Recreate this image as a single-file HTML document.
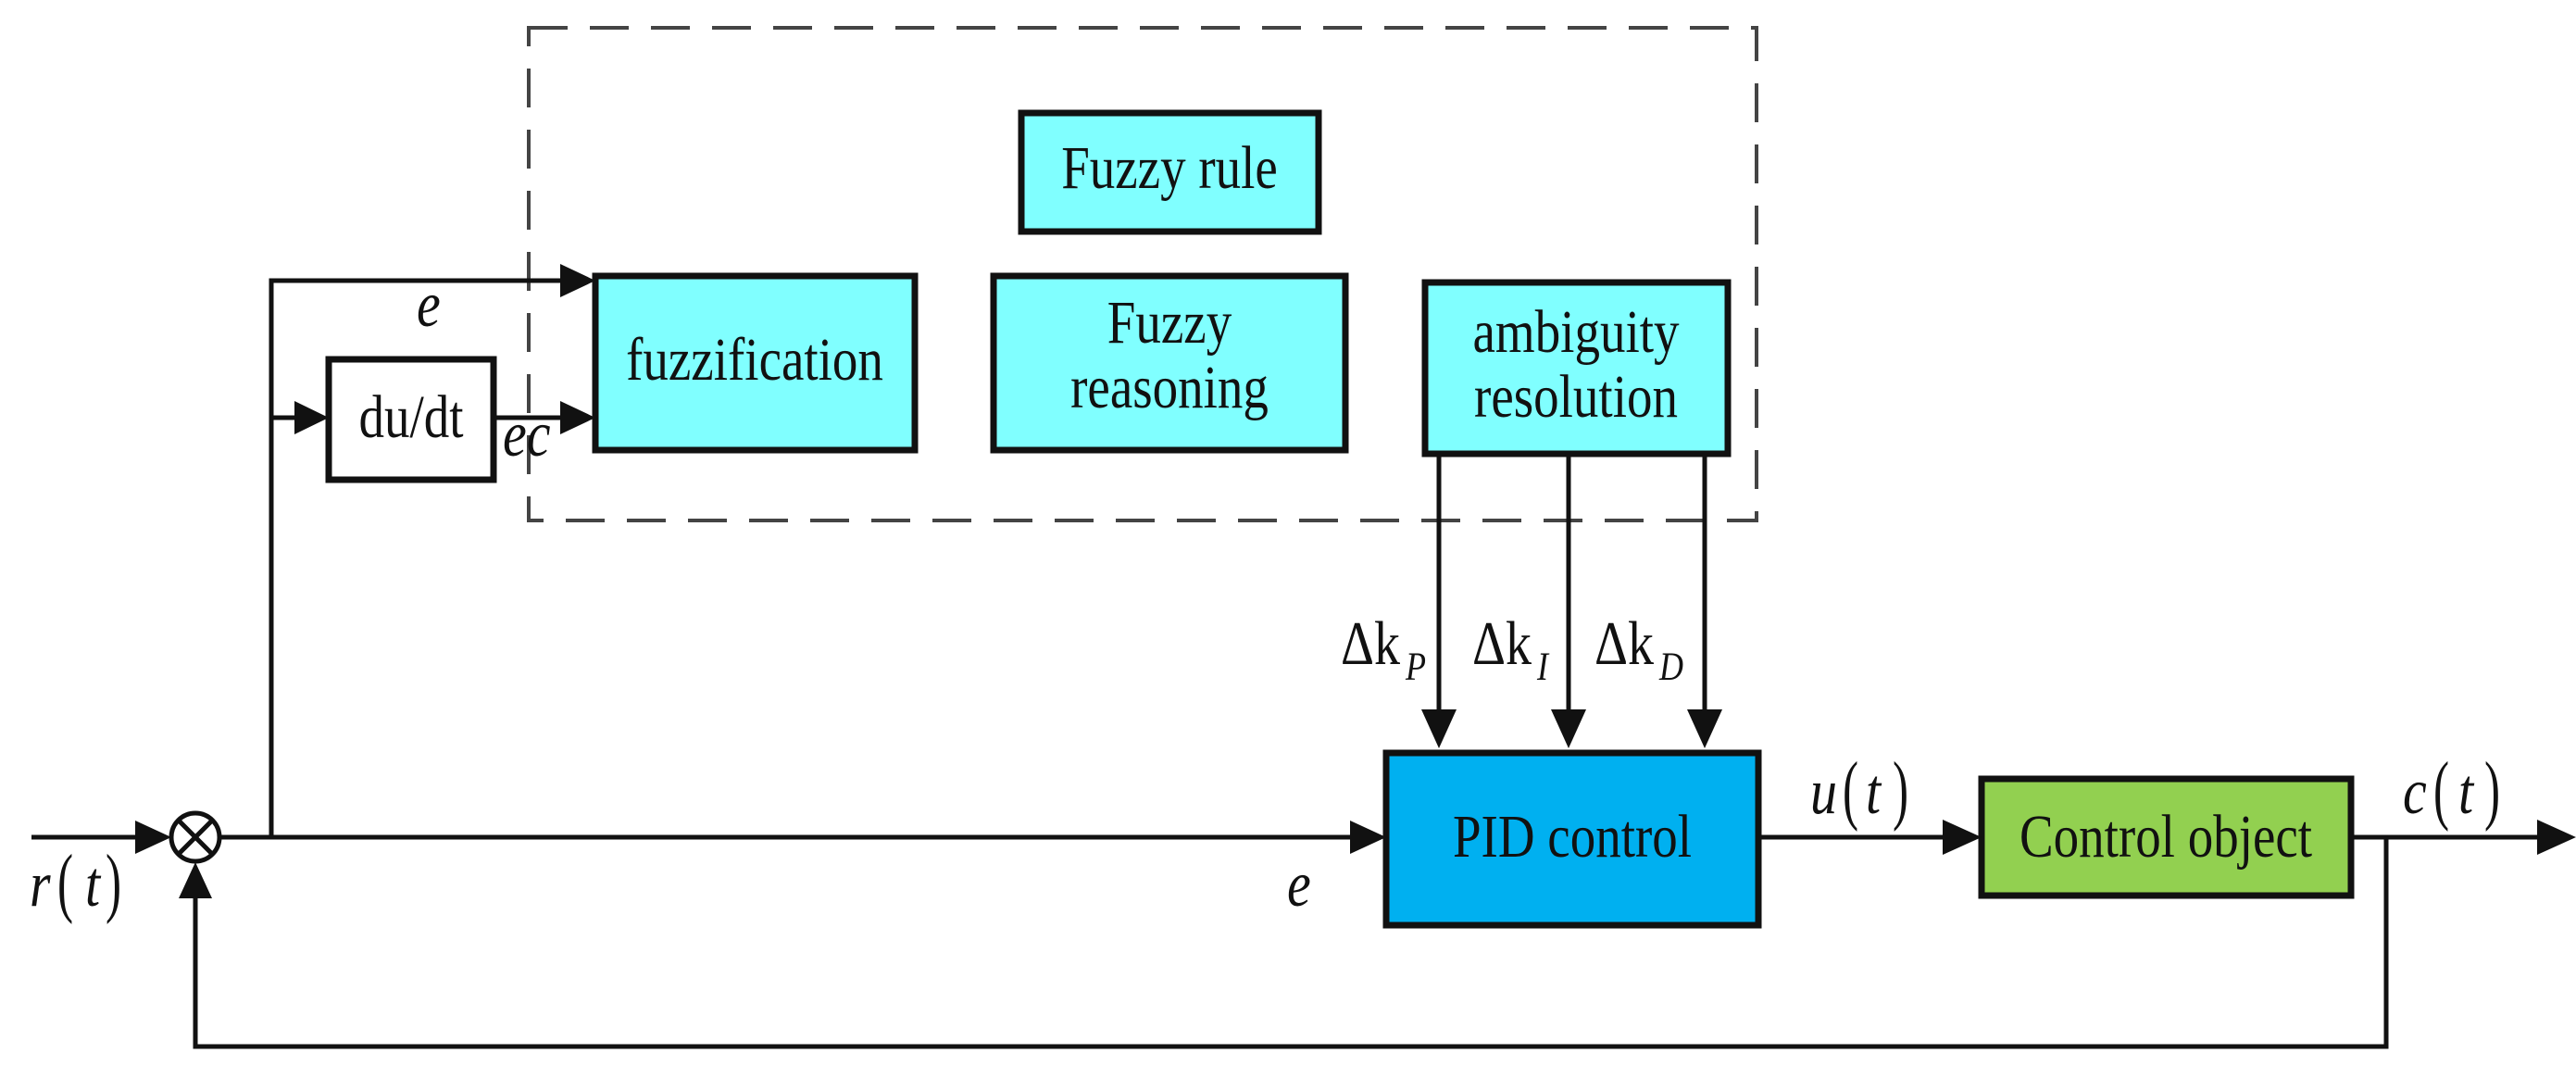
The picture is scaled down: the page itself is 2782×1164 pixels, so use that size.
<!DOCTYPE html>
<html><head><meta charset="utf-8"><style>
html,body{margin:0;padding:0;background:#fff;}
svg{display:block;}
text{font-family:"Liberation Serif",serif;fill:#111;}
</style></head><body>
<svg width="2782" height="1164" viewBox="0 0 2782 1164" xmlns="http://www.w3.org/2000/svg">
<!-- dashed box -->
<rect x="571" y="30" width="1326" height="532" fill="none" stroke="#444" stroke-width="4" stroke-dasharray="42,24"/>
<!-- boxes -->
<g stroke="#111" stroke-width="7">
<rect x="1103" y="122" width="321" height="128" fill="#80FFFF"/>
<rect x="643" y="298" width="345" height="188" fill="#80FFFF"/>
<rect x="1073" y="298" width="380" height="188" fill="#80FFFF"/>
<rect x="1539" y="305" width="327" height="185" fill="#80FFFF"/>
<rect x="355" y="388" width="178" height="130" fill="#fff"/>
<rect x="1497" y="813" width="402" height="186" fill="#00B0F0"/>
<rect x="2140" y="841" width="399" height="126" fill="#92D050"/>
</g>
<!-- lines -->
<g stroke="#111" stroke-width="5" fill="none">
<polyline points="293,904 293,303 610,303"/>
<line x1="293" y1="451" x2="320" y2="451"/>
<line x1="533" y1="451" x2="610" y2="451"/>
<line x1="34" y1="904" x2="150" y2="904"/>
<line x1="238" y1="904" x2="1460" y2="904"/>
<line x1="1554" y1="490" x2="1554" y2="770"/>
<line x1="1694" y1="490" x2="1694" y2="770"/>
<line x1="1841" y1="490" x2="1841" y2="770"/>
<line x1="1899" y1="904" x2="2100" y2="904"/>
<line x1="2539" y1="904" x2="2740" y2="904"/>
<polyline points="2577,904 2577,1130 211,1130 211,970"/>
<circle cx="211" cy="904" r="26"/>
<line x1="193" y1="886" x2="229" y2="922"/>
<line x1="229" y1="886" x2="193" y2="922"/>
</g>
<!-- arrowheads -->
<g fill="#111">
<polygon points="643,303 605,285 605,321"/>
<polygon points="643,451 605,433 605,469"/>
<polygon points="355,451 318,433 318,469"/>
<polygon points="185,904 146,886 146,922"/>
<polygon points="211,931 193,970 229,970"/>
<polygon points="1497,904 1458,886 1458,922"/>
<polygon points="2140,904 2098,885 2098,923"/>
<polygon points="2782,904 2740,885 2740,923"/>
<polygon points="1554,808 1535,766 1573,766"/>
<polygon points="1694,808 1675,766 1713,766"/>
<polygon points="1841,808 1822,766 1860,766"/>
</g>
<!-- labels -->
<g font-size="55" text-anchor="middle">
<text transform="translate(1263,203) scale(1,1.2)">Fuzzy rule</text>
<text transform="translate(815,410) scale(1,1.2)">fuzzification</text>
<text transform="translate(1263,370) scale(1,1.2)">Fuzzy</text>
<text transform="translate(1263,440) scale(1,1.2)">reasoning</text>
<text transform="translate(1702,380) scale(1,1.2)">ambiguity</text>
<text transform="translate(1702,450) scale(1,1.2)">resolution</text>
<text transform="translate(444,472) scale(1,1.2)">du/dt</text>
<text transform="translate(1698,925) scale(1,1.2)">PID control</text>
<text transform="translate(2339,925) scale(1,1.2)">Control object</text>
</g>
<g font-size="58" font-style="italic">
<text transform="translate(450,352) scale(1,1.2)">e</text>
<text transform="translate(543,492) scale(1,1.2)">ec</text>
<text transform="translate(1390,978) scale(1,1.2)">e</text>
<text transform="translate(32,978) scale(1,1.2)">r</text>
<text transform="translate(92,978) scale(1,1.2)">t</text>
<text transform="translate(1955,878) scale(1,1.2)">u</text>
<text transform="translate(2015,878) scale(1,1.2)">t</text>
<text transform="translate(2595,878) scale(1,1.2)">c</text>
<text transform="translate(2655,878) scale(1,1.2)">t</text>
</g>
<g font-size="64">
<text transform="translate(62,980) scale(0.8,1.3)">(</text>
<text transform="translate(114,980) scale(0.8,1.3)">)</text>
<text transform="translate(1990,880) scale(0.8,1.3)">(</text>
<text transform="translate(2044,880) scale(0.8,1.3)">)</text>
<text transform="translate(2628,880) scale(0.8,1.3)">(</text>
<text transform="translate(2683,880) scale(0.8,1.3)">)</text>
</g>
<g font-size="56">
<text transform="translate(1448,717) scale(1,1.2)">Δk<tspan font-size="36" font-style="italic" dx="6" dy="14">P</tspan></text>
<text transform="translate(1590,717) scale(1,1.2)">Δk<tspan font-size="36" font-style="italic" dx="6" dy="14">I</tspan></text>
<text transform="translate(1722,717) scale(1,1.2)">Δk<tspan font-size="36" font-style="italic" dx="6" dy="14">D</tspan></text>
</g>
</svg>
</body></html>
